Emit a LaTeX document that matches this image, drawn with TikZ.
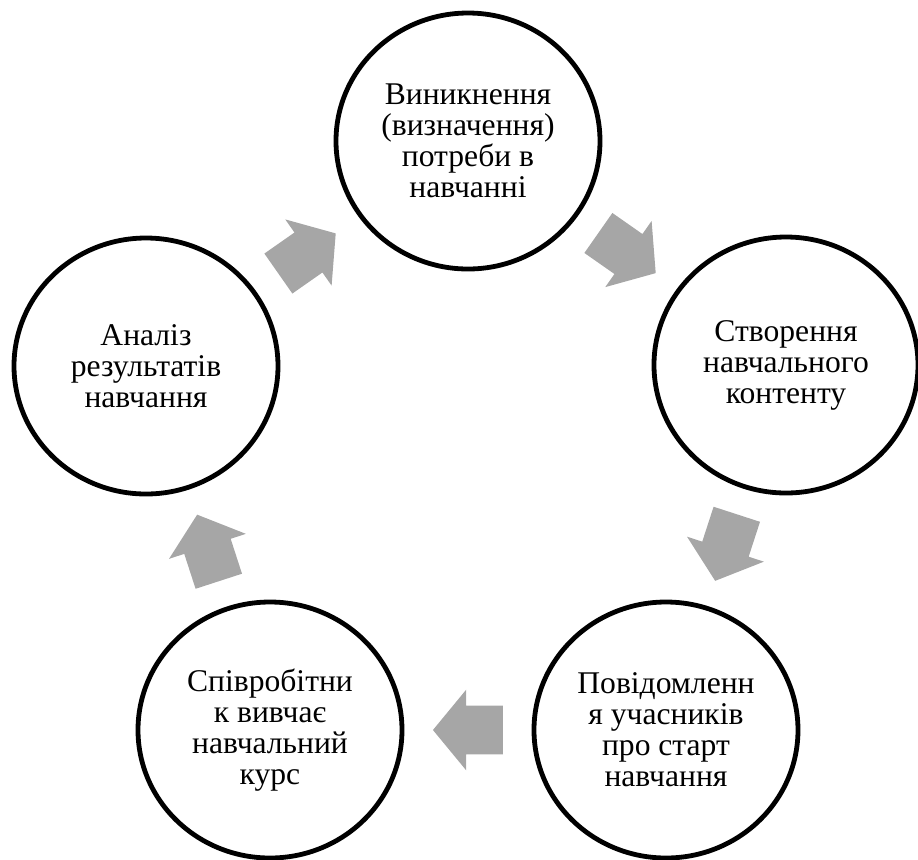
\documentclass[tikz,border=0pt]{standalone}
\usepackage{fontspec}
\setmainfont{Liberation Serif}
\usetikzlibrary{calc}
\usetikzlibrary{shapes}
\definecolor{arrowgray}{HTML}{A6A6A6}
\tikzset{
  stage/.style={ellipse, draw=black, line width=2.4pt, minimum width=132pt,
    minimum height=128pt, inner sep=0pt, align=center,
    font=\fontsize{15.8}{15.5}\selectfont},
  cyclearrow/.style={single arrow, fill=arrowgray, draw=none,
    inner xsep=0pt, inner ysep=12pt, minimum height=35pt,
    single arrow head extend=8pt, single arrow tip angle=101}
}

\begin{document}
\begin{tikzpicture}[x=0.5pt, y=-0.5pt]
        \useasboundingbox (0,0) rectangle (918,859);
        % stages
        \node[stage] (need) at (468,141) {Виникнення\\(визначення)\\потреби в\\навчанні};
        \node[stage] (content) at (786,365) {Створення\\навчального\\контенту};
        \node[stage] (notice) at (666,730) {Повідомленн\\я учасників\\про старт\\навчання};
        \node[stage] (study) at (270,730) {Співробітни\\к вивчає\\навчальний\\курс};
        \node[stage] (review) at (146,366) {Аналіз\\результатів\\навчання};
        % arrows
        \node[cyclearrow, rotate=-35, xshift=-5pt] (a1) at ($(need)!0.5!(content)$) {};
        \node[cyclearrow, rotate=-108, xshift=-5pt] (a2) at ($(content)!0.5!(notice)$) {};
        \node[cyclearrow, rotate=180, xshift=-5pt] (a3) at ($(notice)!0.5!(study)$) {};
        \node[cyclearrow, rotate=108, xshift=-5pt] (a4) at ($(study)!0.5!(review)$) {};
        \node[cyclearrow, rotate=35, xshift=-5pt] (a5) at ($(review)!0.5!(need)$) {};
    \end{tikzpicture}
\end{document}
